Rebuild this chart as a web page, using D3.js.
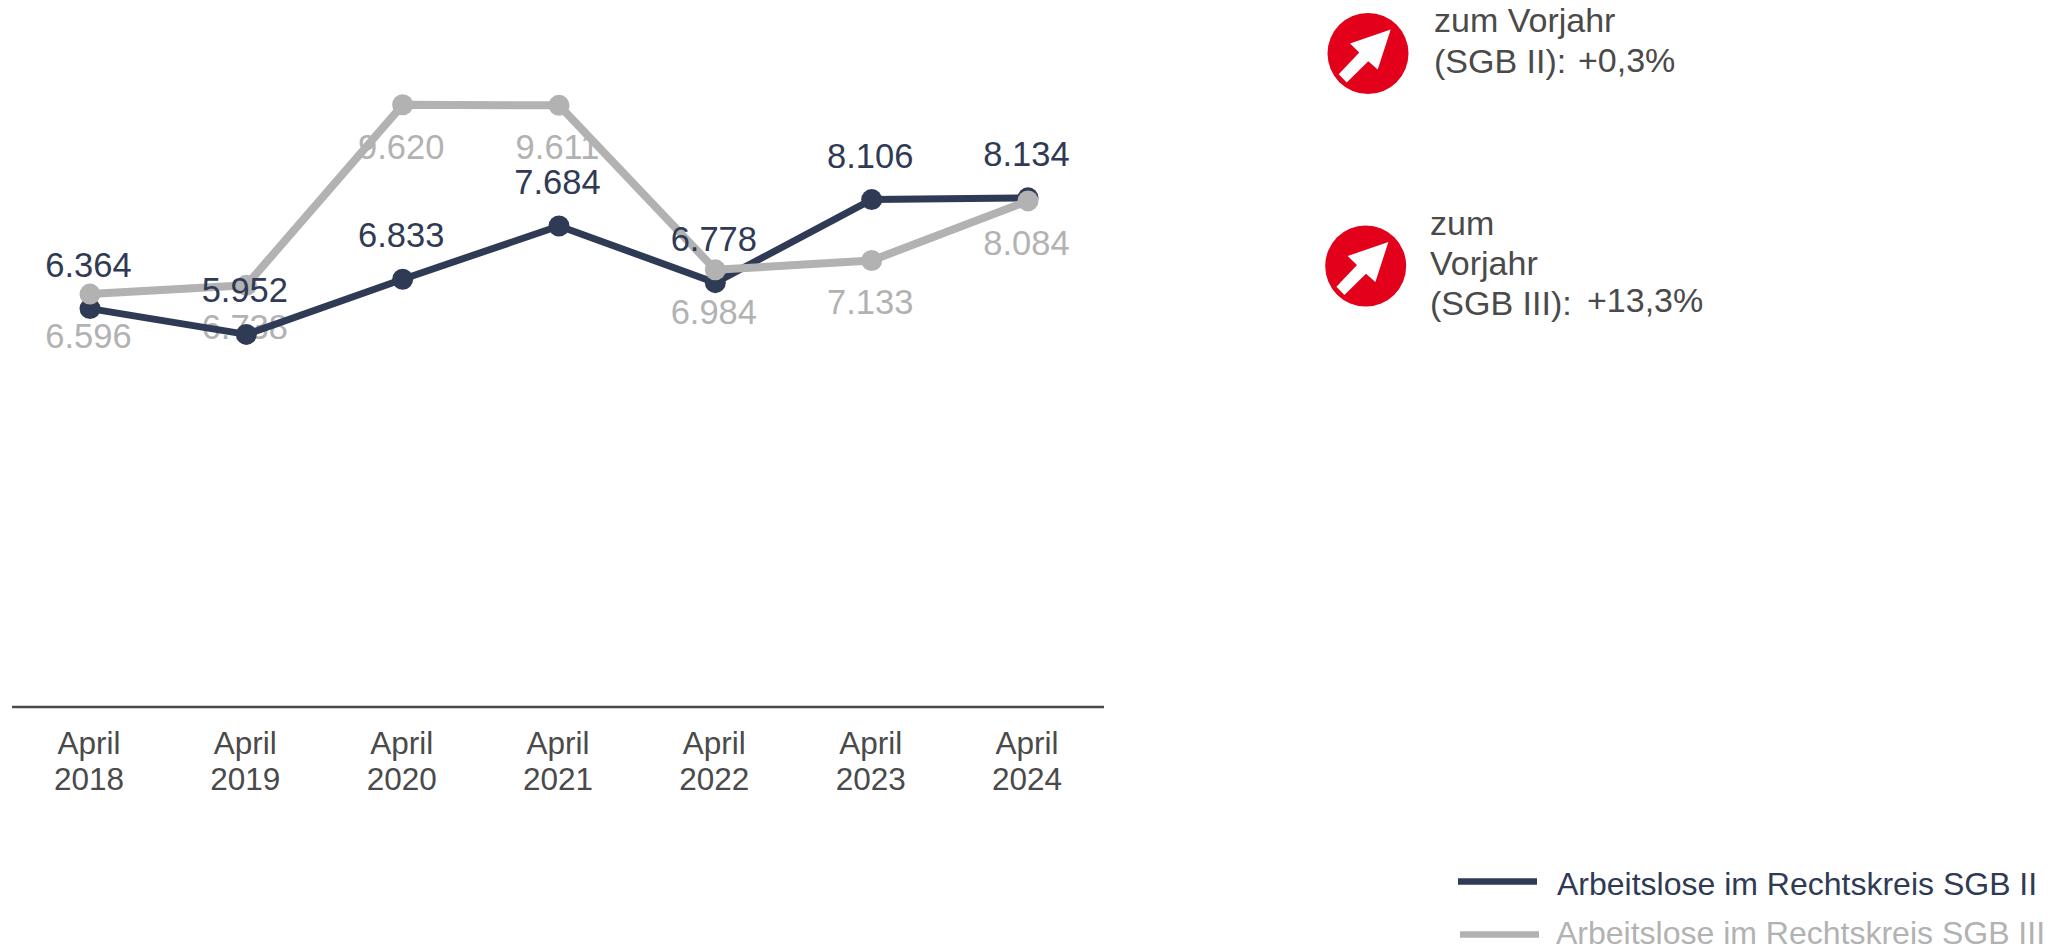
<!DOCTYPE html>
<html lang="de">
<head>
<meta charset="utf-8">
<style>
html,body{margin:0;padding:0;background:#fff;overflow:hidden}
svg{display:block}
text{font-family:"Liberation Sans",Arial,sans-serif}
</style>
<script src="https://cdn.jsdelivr.net/npm/d3@7/dist/d3.min.js"></script>
</head>
<body>
<svg id="chart" width="2072" height="951"></svg>
<script>
const categories = ["2018","2019","2020","2021","2022","2023","2024"];
const tickMonth = "April";
const sgb2 = [6364,5952,6833,7684,6778,8106,8134];
const sgb3 = [6596,6738,9620,9611,6984,7133,8084];
const seriesNames = ["Arbeitslose im Rechtskreis SGB II","Arbeitslose im Rechtskreis SGB III"];

const DARK="#2f3a55", GRAY="#b2b2b2", TEXT="#4a4a4a", RED="#e2001a";
const svg=d3.select("#chart");
const x=d3.scalePoint().domain(categories).range([90,1028]);
const y=d3.scaleLinear().domain([0,10000]).range([707,81]);
const fmt=d3.formatLocale({decimal:",",thousands:".",grouping:[3],currency:["","€"]}).format(",d");
const line=d3.line().x((d,i)=>x(categories[i])).y(d=>y(d));

// axis
const ax=svg.append("g").attr("transform","translate(0,707)")
  .call(d3.axisBottom(x).tickSize(0).tickFormat(""));
ax.select(".domain").remove();
ax.selectAll(".tick text").remove();
ax.selectAll(".tick").each(function(d){
  const t=d3.select(this).append("text").attr("text-anchor","middle")
    .attr("fill",TEXT).attr("font-size",31.5);
  t.append("tspan").attr("x",-1.5).attr("y",47).text(tickMonth);
  t.append("tspan").attr("x",-1.5).attr("y",82.5).text(d);
});
svg.append("line").attr("x1",12).attr("x2",1104).attr("y1",707).attr("y2",707)
  .attr("stroke",TEXT).attr("stroke-width",2.5);

function labels(vals,color,dy){
  svg.append("g").selectAll("text").data(vals).join("text")
    .attr("x",(d,i)=>x(categories[i])-1.5).attr("y",d=>y(d)+dy)
    .attr("text-anchor","middle").attr("fill",color).attr("font-size",34.5)
    .text(d=>fmt(d));
}
function series(vals,color,w){
  svg.append("path").attr("d",line(vals)).attr("fill","none")
    .attr("stroke",color).attr("stroke-width",w).attr("stroke-linejoin","round");
  svg.append("g").selectAll("circle").data(vals).join("circle")
    .attr("cx",(d,i)=>x(categories[i])).attr("cy",d=>y(d)).attr("r",10.5).attr("fill",color);
}
labels(sgb3,GRAY,54);
series(sgb2,DARK,7);
series(sgb3,GRAY,8);
labels(sgb2,DARK,-32);

// indicators
const arrow=[[22.7,-24],[9.7,16],[0.3,7.7],[-21.3,29],[-29.3,20.7],[-8.7,-1],[-18,-10]];
function badge(cx,cy){
  const g=svg.append("g").attr("transform",`translate(${cx},${cy})`);
  g.append("circle").attr("r",40.5).attr("fill",RED);
  g.append("polygon").attr("points",arrow.map(p=>p.join(",")).join(" ")).attr("fill","#fff");
}
badge(1368,53.5);
badge(1365.7,266);
const notes=[["zum Vorjahr",1434,32],["(SGB II):",1434,73],["+0,3%",1578,72],
             ["zum",1430,235],["Vorjahr",1430,275],["(SGB III):",1430,315],["+13,3%",1587,312]];
svg.append("g").selectAll("text").data(notes).join("text")
  .attr("x",d=>d[1]).attr("y",d=>d[2]).attr("fill",TEXT).attr("font-size",34).text(d=>d[0]);

// legend
const leg=[{n:seriesNames[0],c:DARK,x0:1458,y0:881.5,tx:1557,ty:895},
           {n:seriesNames[1],c:GRAY,x0:1460,y0:934.5,tx:1556,ty:944}];
leg.forEach(l=>{
  svg.append("line").attr("x1",l.x0).attr("x2",l.x0+79).attr("y1",l.y0).attr("y2",l.y0)
    .attr("stroke",l.c).attr("stroke-width",6.5);
  svg.append("text").attr("x",l.tx).attr("y",l.ty).attr("fill",l.c).attr("font-size",32).text(l.n);
});
</script>
</body>
</html>
